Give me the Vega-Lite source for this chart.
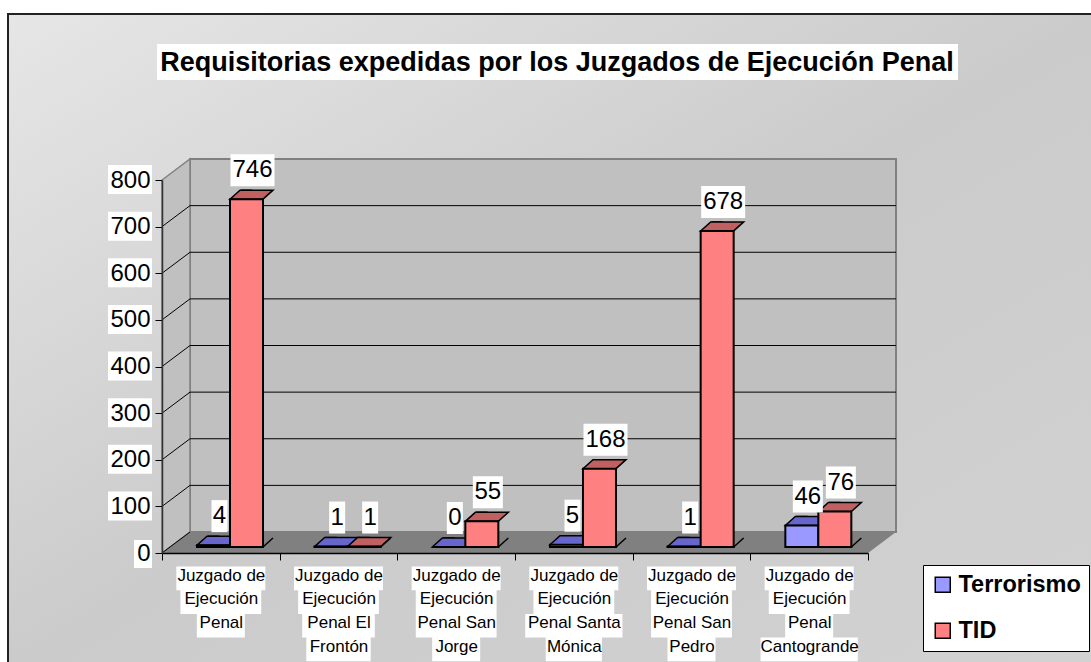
{
  "$schema": "https://vega.github.io/schema/vega-lite/v6.json",
  "width": 1090,
  "height": 652,
  "autosize": {"type": "none"},
  "padding": {"left": 8, "top": 14, "right": 0, "bottom": 0},
  "background": "white",
  "config": {
    "font": "Liberation Sans",
    "view": {
      "fill": {"gradient": "linear", "x1": 0, "y1": 0, "x2": 1, "y2": 1,
        "stops": [{"offset": 0, "color": "#e6e6e6"}, {"offset": 0.5, "color": "#cbcbcb"}, {"offset": 1, "color": "#d2d2d2"}]},
      "stroke": "#222222",
      "strokeWidth": 2
    }
  },
  "title": {
    "text": "Requisitorias expedidas por los Juzgados de Ejecución Penal",
    "fontSize": 27,
    "fontWeight": "bold",
    "color": "black",
    "anchor": "middle",
    "frame": "group",
    "baseline": "alphabetic",
    "offset": -84,
    "dx": 4
  },
  "datasets": {
    "bars": [
      {"juzgado": "Juzgado de Ejecución Penal", "serie": "Terrorismo", "valor": 4},
      {"juzgado": "Juzgado de Ejecución Penal", "serie": "TID", "valor": 746},
      {"juzgado": "Juzgado de Ejecución Penal El Frontón", "serie": "Terrorismo", "valor": 1},
      {"juzgado": "Juzgado de Ejecución Penal El Frontón", "serie": "TID", "valor": 1},
      {"juzgado": "Juzgado de Ejecución Penal San Jorge", "serie": "Terrorismo", "valor": 0},
      {"juzgado": "Juzgado de Ejecución Penal San Jorge", "serie": "TID", "valor": 55},
      {"juzgado": "Juzgado de Ejecución Penal Santa Mónica", "serie": "Terrorismo", "valor": 5},
      {"juzgado": "Juzgado de Ejecución Penal Santa Mónica", "serie": "TID", "valor": 168},
      {"juzgado": "Juzgado de Ejecución Penal San Pedro", "serie": "Terrorismo", "valor": 1},
      {"juzgado": "Juzgado de Ejecución Penal San Pedro", "serie": "TID", "valor": 678},
      {"juzgado": "Juzgado de Ejecución Penal Cantogrande", "serie": "Terrorismo", "valor": 46},
      {"juzgado": "Juzgado de Ejecución Penal Cantogrande", "serie": "TID", "valor": 76}
    ],
    "grid": [{"v": 0}, {"v": 100}, {"v": 200}, {"v": 300}, {"v": 400}, {"v": 500}, {"v": 600}, {"v": 700}, {"v": 800}],
    "one": [{"k": 1}]
  },
  "layer": [
    {
      "data": {"name": "one"},
      "mark": {"type": "rect", "fill": "#c0c0c0", "stroke": "#808080", "strokeWidth": 2, "xOffset": 28, "x2Offset": 28, "yOffset": -21, "y2Offset": -21},
      "encoding": {
        "x": {"datum": "Juzgado de Ejecución Penal", "type": "nominal", "bandPosition": 0,
          "scale": {"domain": ["Juzgado de Ejecución Penal", "Juzgado de Ejecución Penal El Frontón", "Juzgado de Ejecución Penal San Jorge", "Juzgado de Ejecución Penal Santa Mónica", "Juzgado de Ejecución Penal San Pedro", "Juzgado de Ejecución Penal Cantogrande"], "range": [154, 860], "paddingInner": 0, "paddingOuter": 0},
          "axis": {"orient": "bottom", "offset": -113, "zindex": 1, "title": null, "tickBand": "extent", "tickSize": 7, "tickColor": "black", "domainColor": "black", "domainWidth": 1.5, "labelAngle": 0, "labelColor": "black", "labelFontSize": 17, "labelLineHeight": 23.7, "labelBaseline": "top", "labelPadding": 7, "labelLimit": 300,
            "labelExpr": "!isString(datum.value) ? '' : length(split(datum.value, ' ')) < 5 ? [join(slice(split(datum.value, ' '), 0, 2), ' '), split(datum.value, ' ')[2], split(datum.value, ' ')[3]] : [join(slice(split(datum.value, ' '), 0, 2), ' '), split(datum.value, ' ')[2], join(slice(split(datum.value, ' '), 3, -1), ' '), peek(split(datum.value, ' '))]"}},
        "x2": {"datum": "Juzgado de Ejecución Penal Cantogrande", "bandPosition": 1},
        "y": {"datum": 0, "type": "quantitative", "scale": {"domain": [0, 800], "range": [539, 166], "nice": false},
          "axis": {"offset": -154, "zindex": 1, "title": null, "values": [0, 100, 200, 300, 400, 500, 600, 700, 800], "grid": false, "tickSize": 7, "tickColor": "black", "domainColor": "#333333", "domainWidth": 1.5, "labelColor": "black", "labelFontSize": 24, "labelPadding": 5}},
        "y2": {"datum": 800}
      }
    },
    {
      "data": {"name": "one"},
      "mark": {"type": "point", "shape": "M0 0 L706 0 L734 -21 L28 -21 Z", "size": 4, "filled": true, "fill": "#808080", "strokeWidth": 0, "opacity": 1},
      "encoding": {
        "x": {"datum": "Juzgado de Ejecución Penal", "type": "nominal", "bandPosition": 0},
        "y": {"datum": 0, "type": "quantitative"}
      }
    },
    {
      "data": {"name": "one"},
      "mark": {"type": "point", "shape": "M0 0 L0 -373 L28 -394 L28 -21 Z", "size": 4, "filled": true, "fill": "#c0c0c0", "stroke": "#808080", "strokeWidth": 1.5, "opacity": 1},
      "encoding": {
        "x": {"datum": "Juzgado de Ejecución Penal", "type": "nominal", "bandPosition": 0},
        "y": {"datum": 0, "type": "quantitative"}
      }
    },
    {
      "data": {"name": "one"},
      "mark": {"type": "point", "shape": "M-5 -136 H796 V-100 H-5 Z", "size": 4, "filled": true, "fill": "white", "strokeWidth": 0, "opacity": 1},
      "encoding": {
        "x": {"datum": "Juzgado de Ejecución Penal", "type": "nominal", "bandPosition": 0},
        "y": {"datum": 800, "type": "quantitative"}
      }
    },
    {
      "data": {"name": "grid"},
      "transform": [{"filter": "datum.v > 0 && datum.v < 800"}],
      "mark": {"type": "rule", "color": "black", "strokeWidth": 1, "xOffset": 28, "x2Offset": 28, "yOffset": -21},
      "encoding": {
        "x": {"datum": "Juzgado de Ejecución Penal", "type": "nominal", "bandPosition": 0},
        "x2": {"datum": "Juzgado de Ejecución Penal Cantogrande", "bandPosition": 1},
        "y": {"field": "v", "type": "quantitative"}
      }
    },
    {
      "data": {"name": "grid"},
      "transform": [{"filter": "datum.v < 800"}],
      "mark": {"type": "rule", "color": "black", "strokeWidth": 1, "x2Offset": 28, "y2Offset": -21},
      "encoding": {
        "x": {"datum": "Juzgado de Ejecución Penal", "type": "nominal", "bandPosition": 0},
        "x2": {"datum": "Juzgado de Ejecución Penal", "bandPosition": 0},
        "y": {"field": "v", "type": "quantitative"},
        "y2": {"field": "v"}
      }
    },
    {
      "data": {"name": "grid"},
      "transform": [{"calculate": "datum.v == 0 ? 'M-28 -13 H-10 V15 H-28 Z' : 'M-54 -15 H-10 V14 H-54 Z'", "as": "caja"}],
      "mark": {"type": "point", "size": 4, "filled": true, "fill": "white", "strokeWidth": 0, "opacity": 1},
      "encoding": {
        "x": {"datum": "Juzgado de Ejecución Penal", "type": "nominal", "bandPosition": 0},
        "y": {"field": "v", "type": "quantitative"},
        "shape": {"field": "caja", "type": "nominal", "scale": null, "legend": null}
      }
    },
    {
      "data": {"name": "bars"},
      "transform": [
        {"filter": "datum.serie === 'TID'"},
        {"calculate": "split(datum.juzgado, ' ')", "as": "w"},
        {"calculate": "length(join(slice(datum.w, 0, 2), ' '))", "as": "n1"},
        {"calculate": "length(datum.w[2])", "as": "n2"},
        {"calculate": "length(datum.w) < 5 ? length(datum.w[3]) : length(join(slice(datum.w, 3, -1), ' '))", "as": "n3"},
        {"calculate": "length(datum.w) < 5 ? 0 : length(peek(datum.w))", "as": "n4"},
        {"calculate": "'M' + (-4.1 * datum.n1 - 3.5) + ' 13.5h' + (8.2 * datum.n1 + 7) + 'v23.7h' + (-8.2 * datum.n1 - 7) + 'Z' + 'M' + (-4.1 * datum.n2 - 3.5) + ' 37.2h' + (8.2 * datum.n2 + 7) + 'v23.7h' + (-8.2 * datum.n2 - 7) + 'Z' + 'M' + (-4.1 * datum.n3 - 3.5) + ' 60.9h' + (8.2 * datum.n3 + 7) + 'v23.7h' + (-8.2 * datum.n3 - 7) + 'Z' + (datum.n4 > 0 ? 'M' + (-4.1 * datum.n4 - 3.5) + ' 84.6h' + (8.2 * datum.n4 + 7) + 'v23.7h' + (-8.2 * datum.n4 - 7) + 'Z' : '')", "as": "caja"}
      ],
      "mark": {"type": "point", "size": 4, "filled": true, "fill": "white", "strokeWidth": 0, "opacity": 1},
      "encoding": {
        "x": {"field": "juzgado", "type": "nominal", "bandPosition": 0.5},
        "y": {"datum": 0, "type": "quantitative"},
        "shape": {"field": "caja", "type": "nominal", "scale": null, "legend": null}
      }
    },
    {
      "data": {"name": "bars"},
      "mark": {"type": "bar", "width": 10, "xOffset": 21.5, "yOffset": -15, "y2Offset": -6, "stroke": "black", "strokeWidth": 1.5},
      "encoding": {
        "x": {"field": "juzgado", "type": "nominal"},
        "xOffset": {"field": "serie", "type": "nominal", "scale": {"domain": ["Terrorismo", "TID"], "range": [35, 101], "paddingInner": 0, "paddingOuter": 0}},
        "y": {"field": "valor", "type": "quantitative"},
        "y2": {"datum": 0},
        "fill": {"condition": {"test": "datum.serie === 'TID'", "value": "#804040"}, "value": "#404080"}
      }
    },
    {
      "data": {"name": "bars"},
      "mark": {"type": "point", "shape": "M16.5 -4.5 L16.5 -6 L26.5 -15 L27.5 -15 L27.5 -4.5 Z", "size": 4, "filled": true, "fill": "#808080", "strokeWidth": 0, "opacity": 1},
      "encoding": {
        "x": {"field": "juzgado", "type": "nominal"},
        "xOffset": {"field": "serie", "type": "nominal"},
        "y": {"datum": 0, "type": "quantitative"}
      }
    },
    {
      "data": {"name": "bars"},
      "mark": {"type": "point", "shape": "M16.5 -6 L26.5 -15", "size": 4, "filled": false, "stroke": "black", "strokeWidth": 1.5, "opacity": 1},
      "encoding": {
        "x": {"field": "juzgado", "type": "nominal"},
        "xOffset": {"field": "serie", "type": "nominal"},
        "y": {"datum": 0, "type": "quantitative"}
      }
    },
    {
      "data": {"name": "bars"},
      "mark": {"type": "point", "shape": "M-16.5 -6 L16.5 -6 L26.5 -15 L-6.5 -15 Z", "size": 4, "filled": true, "stroke": "black", "strokeWidth": 1.5, "opacity": 1},
      "encoding": {
        "x": {"field": "juzgado", "type": "nominal"},
        "xOffset": {"field": "serie", "type": "nominal"},
        "y": {"field": "valor", "type": "quantitative"},
        "fill": {"condition": {"test": "datum.serie === 'TID'", "value": "#c06060"}, "value": "#6666cc"}
      }
    },
    {
      "data": {"name": "bars"},
      "mark": {"type": "bar", "yOffset": -6, "y2Offset": -6, "stroke": "black", "strokeWidth": 2},
      "encoding": {
        "x": {"field": "juzgado", "type": "nominal"},
        "xOffset": {"field": "serie", "type": "nominal"},
        "y": {"field": "valor", "type": "quantitative"},
        "y2": {"datum": 0},
        "color": {"field": "serie", "type": "nominal",
          "scale": {"domain": ["Terrorismo", "TID"], "range": ["#9999ff", "#ff8080"]},
          "legend": {"orient": "none", "legendX": 915, "legendY": 551, "title": null, "symbolType": "square", "symbolSize": 225, "symbolStrokeColor": "black", "symbolStrokeWidth": 1.5, "labelFontSize": 23.5, "labelFontWeight": "bold", "labelColor": "black", "rowPadding": 21, "padding": 8, "fillColor": "white", "strokeColor": "black", "labelOffset": 4, "labelLimit": 300}}
      }
    },
    {
      "data": {"name": "bars"},
      "transform": [{"calculate": "length(toString(datum.valor))", "as": "digitos"}],
      "mark": {"type": "point", "size": 4, "filled": true, "fill": "white", "strokeWidth": 0, "opacity": 1},
      "encoding": {
        "x": {"field": "juzgado", "type": "nominal"},
        "xOffset": {"field": "serie", "type": "nominal"},
        "y": {"field": "valor", "type": "quantitative"},
        "shape": {"field": "digitos", "type": "ordinal", "legend": null,
          "scale": {"domain": [1, 2, 3], "range": ["M-2 -51 H14 V-19 H-2 Z", "M-9 -51 H21 V-19 H-9 Z", "M-16 -51 H28 V-19 H-16 Z"]}}
      }
    },
    {
      "data": {"name": "bars"},
      "mark": {"type": "text", "fontSize": 24, "color": "black", "align": "center", "baseline": "middle", "dx": 6, "dy": -35},
      "encoding": {
        "x": {"field": "juzgado", "type": "nominal"},
        "xOffset": {"field": "serie", "type": "nominal"},
        "y": {"field": "valor", "type": "quantitative"},
        "text": {"field": "valor", "type": "quantitative"}
      }
    }
  ]
}
